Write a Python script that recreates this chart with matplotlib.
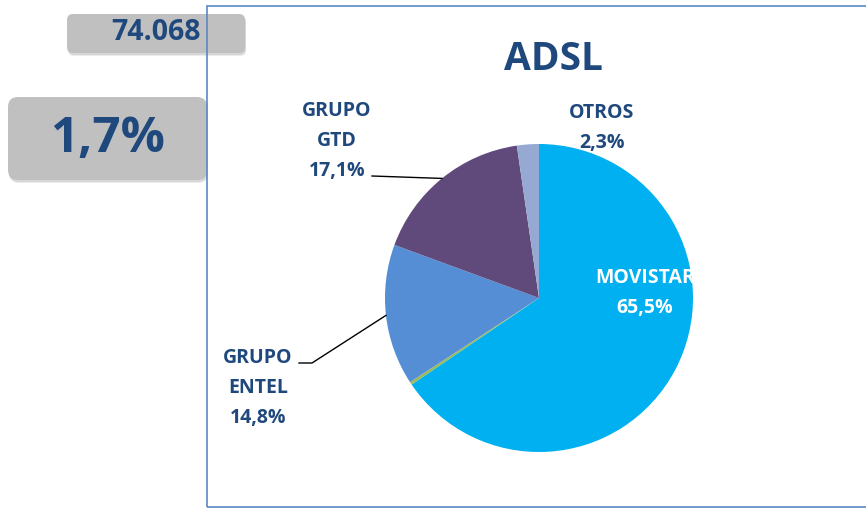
import matplotlib.pyplot as plt
import numpy as np
from matplotlib.patches import FancyBboxPatch, Rectangle

plt.rcParams['font.family'] = ['Open Sans', 'DejaVu Sans']

W, H = 866, 508

# data
title = "ADSL"
total_lines = "74.068"
growth = "1,7%"
operators = ["MOVISTAR", "", "GRUPO\nENTEL", "GRUPO\nGTD", "OTROS"]
shares = [65.5, 0.3, 14.8, 17.1, 2.3]
colors = ["#00B0F0", "#9BBB59", "#558ED5", "#604A7B", "#95A9D2"]

navy = "#1F497D"


def pct(v):
    return f"{v:.1f}".replace(".", ",") + "%"


fig = plt.figure(figsize=(W / 100, H / 100), dpi=100)
ax = fig.add_axes([0, 0, 1, 1])

# pie, centre and radius in pixels
cx, cy, r = 539, H - 298, 154
wedges, _ = ax.pie(shares, colors=colors, startangle=90, counterclock=False,
                   center=(cx, cy), radius=r, wedgeprops=dict(linewidth=0))
ax.set_xlim(0, W)
ax.set_ylim(0, H)
ax.set_aspect("equal")
ax.axis("off")

# frame of the chart area
ax.add_patch(Rectangle((207, 1), 800, H - 7, fill=False, edgecolor="#5B87C6",
                       linewidth=1.2, zorder=5))

# gray boxes on the left, with soft shadow
def box(x, y, w, h, rad):
    for k, a in [(3, 0.15), (2, 0.2)]:
        ax.add_patch(FancyBboxPatch((x + rad + 1, H - y - h + rad - k), w - 2 * rad, h - 2 * rad,
                                    boxstyle=f"round,pad={rad}", facecolor="#808080",
                                    edgecolor="none", alpha=a, zorder=3))
    ax.add_patch(FancyBboxPatch((x + rad, H - y - h + rad), w - 2 * rad, h - 2 * rad,
                                boxstyle=f"round,pad={rad}", facecolor="#C0C0C0",
                                edgecolor="none", zorder=4))

box(67, 14, 178, 39, 6)
box(8, 97, 199, 83, 10)
ax.text(156, H - 33, total_lines, ha="center", va="center", fontsize=20.5,
        fontweight="bold", color=navy, zorder=6)
ax.text(108, H - 140, growth, ha="center", va="center", fontsize=35.5,
        fontweight="bold", color=navy, zorder=6)

# title
ax.text(553, H - 60, title, ha="center", va="center", fontsize=28,
        fontweight="bold", color=navy)

# slice labels
label_pos = {0: (645, 293), 2: (258, 388), 3: (337, 141), 4: (602, 128)}
for i, (x, y) in label_pos.items():
    c = "white" if i == 0 else navy
    t = ax.text(x, H - y, operators[i] + "\n" + pct(shares[i]), ha="center",
                va="center", fontsize=14, fontweight="bold", color=c,
                linespacing=1.65)
    if i == 0:
        t.set_clip_path(wedges[0])


def edge(i):
    w = wedges[i]
    th = np.deg2rad((w.theta1 + w.theta2) / 2)
    return cx + r * np.cos(th), cy + r * np.sin(th)

# leader lines
ex, ey = edge(3)
ax.plot([372, ex], [H - 176, ey], color="black", linewidth=1.0)
ex, ey = edge(2)
ax.plot([299, 312, ex], [H - 363, H - 363, ey], color="black", linewidth=1.0)

plt.savefig("out.png", dpi=100)
